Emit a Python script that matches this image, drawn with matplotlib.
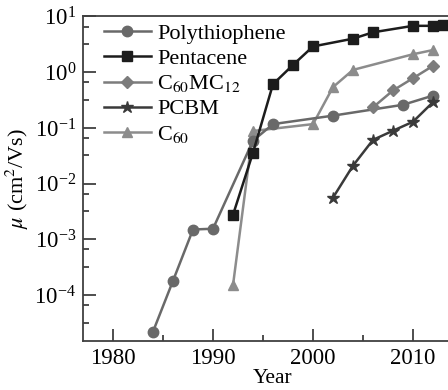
import matplotlib
matplotlib.use("Agg")
import matplotlib.pyplot as plt
from matplotlib.ticker import LogLocator, MultipleLocator, NullFormatter

plt.rcParams["font.family"] = ["Liberation Serif", "DejaVu Serif"]
plt.rcParams["mathtext.fontset"] = "stix"

# Carrier mobility records by year (cm^2/Vs)
poly_year = [1984, 1986, 1988, 1990, 1994, 1996, 2002, 2009, 2012]
poly_mu = [2.2e-5, 1.8e-4, 1.5e-3, 1.55e-3, 0.059, 0.117, 0.166, 0.26, 0.38]

pent_year = [1992, 1994, 1996, 1998, 2000, 2004, 2006, 2010, 2012, 2013]
pent_mu = [2.75e-3, 0.036, 0.61, 1.35, 2.9, 4.0, 5.2, 6.8, 6.8, 7.0]

c60mc_year = [2006, 2008, 2010, 2012]
c60mc_mu = [0.234, 0.47, 0.78, 1.3]

pcbm_year = [2002, 2004, 2006, 2008, 2010, 2012]
pcbm_mu = [5.6e-3, 0.021, 0.061, 0.089, 0.129, 0.29]

c60_year = [1992, 1994, 2000, 2002, 2004, 2010, 2012]
c60_mu = [1.5e-4, 0.088, 0.117, 0.54, 1.1, 2.1, 2.5]

fig = plt.figure(figsize=(4.48, 3.90), dpi=100)
ax = fig.add_axes([83 / 448, 0.1264, 380 / 448, 0.8313])

lw = 1.8
ms = 7.5
ax.plot(poly_year, poly_mu, "-o", color="#696969", lw=lw, ms=ms, label="Polythiophene", zorder=3)
ax.plot(pent_year, pent_mu, "-s", color="#1c1c1c", lw=lw, ms=ms - 0.5, label="Pentacene", zorder=5)
ax.plot(c60mc_year, c60mc_mu, "-D", color="#7c7c7c", lw=lw, ms=ms - 1, label="C$_{60}$MC$_{12}$", zorder=4)
ax.plot(pcbm_year, pcbm_mu, "-*", color="#3a3a3a", lw=lw, ms=ms + 1.5, label="PCBM", zorder=4)
ax.plot(c60_year, c60_mu, "-^", color="#8c8c8c", lw=lw, ms=ms, label="C$_{60}$", zorder=2)

ax.set_yscale("log")
ax.set_xlim(1977, 2015)
ax.set_ylim(10 ** -4.82, 10)

ax.xaxis.set_major_locator(MultipleLocator(10))
ax.xaxis.set_minor_locator(MultipleLocator(5))
ax.yaxis.set_major_locator(LogLocator(base=10, numticks=20))
ax.yaxis.set_minor_locator(LogLocator(base=10, subs=(3.2, 6.6), numticks=20))
ax.yaxis.set_minor_formatter(NullFormatter())

spine_c = "#404040"
for side in ["left", "bottom", "top", "right"]:
    ax.spines[side].set_color(spine_c)
    ax.spines[side].set_linewidth(1.3)

ax.tick_params(which="major", direction="in", length=9, width=1.3, color=spine_c,
               labelsize=16.5, pad=5, top=False, right=False)
ax.tick_params(which="minor", direction="in", length=4.5, width=1.3, color=spine_c,
               top=False, right=False)

ax.set_xlabel("Year", fontsize=15.5, labelpad=0)
ax.set_ylabel(r"$\mu$ (cm$^2$/Vs)", fontsize=16, labelpad=2)

leg = ax.legend(loc="upper left", bbox_to_anchor=(0.02, 1.02), frameon=False,
                fontsize=16, handlelength=2.1, handletextpad=0.3,
                labelspacing=0.2, borderaxespad=0.2)

fig.savefig("out.png", dpi=100)
